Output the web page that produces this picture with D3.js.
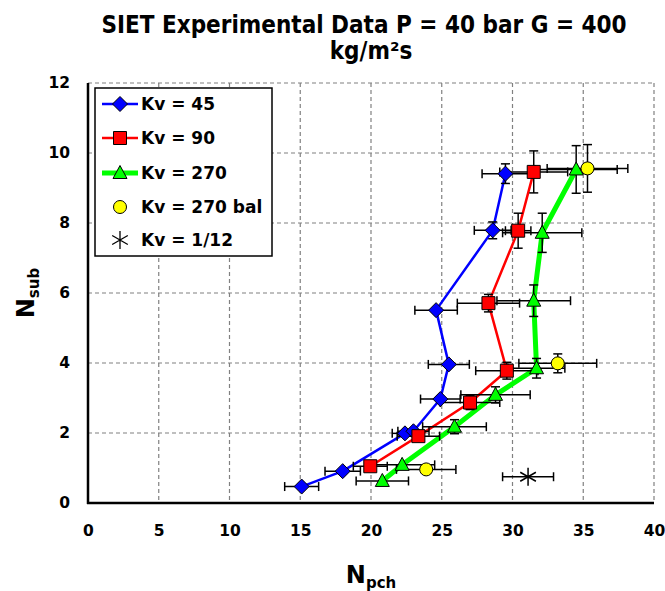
<!DOCTYPE html>
<html><head><meta charset="utf-8">
<script src="https://cdn.jsdelivr.net/npm/d3@7"></script>
<style>body{margin:0;background:#fff}</style>
</head><body>
<svg id="c" width="665" height="591"></svg>
<script>
// ---- data ----
const titleLine1 = "SIET Experimental Data P = 40 bar G = 400";
const xTicks = [0,5,10,15,20,25,30,35,40];
const yTicks = [0,2,4,6,8,10,12];

const kv45X    = [15.1, 18.0, 22.4, 23.0, 24.9, 25.5, 24.6, 28.6, 29.5];
const kv45Y    = [0.47, 0.91, 1.99, 2.05, 2.97, 3.96, 5.51, 7.79, 9.41];
const kv45XErr = [1.2, 1.25, 0.9, 1.1, 1.4, 1.45, 1.5, 1.3, 1.65];
const kv45YErr = [0, 0, 0, 0, 0, 0, 0, 0.24, 0.28];

const kv90X    = [19.95, 23.35, 27.0, 29.6, 28.3, 30.4, 31.5];
const kv90Y    = [1.05, 1.91, 2.87, 3.78, 5.71, 7.78, 9.46];
const kv90XErr = [1.2, 1.5, 2.1, 2.2, 2.2, 0.9, 2.4];
const kv90YErr = [0.1, 0.1, 0.2, 0.24, 0.25, 0.5, 0.6];

const kv270X    = [20.8, 22.2, 25.9, 28.8, 31.7, 31.5, 32.1, 34.5];
const kv270Y    = [0.63, 1.09, 2.18, 3.09, 3.85, 5.78, 7.72, 9.53];
const kv270XErr = [1.85, 2.3, 2.25, 2.45, 2.0, 2.6, 2.8, 2.9];
const kv270YErr = [0, 0, 0.2, 0.23, 0.28, 0.45, 0.56, 0.68];

const balX    = [23.9, 33.2, 35.3];
const balY    = [0.96, 3.99, 9.56];
const balXErr = [2.1, 2.75, 2.85];
const balYErr = [0.1, 0.27, 0.68];

const kv112X    = [31.1];
const kv112Y    = [0.75];
const kv112XErr = [1.8];
const kv112YErr = [0];

const legendLabels = ["Kv = 45","Kv = 90","Kv = 270","Kv = 270 bal","Kv = 1/12"];

// ---- layout ----
const svg = d3.select("#c");
const L=88, R=654, T=83, B=503;
const x = d3.scaleLinear().domain([0,40]).range([L,R]);
const y = d3.scaleLinear().domain([0,12]).range([B,T]);
const FONT = "'DejaVu Sans', Verdana, sans-serif";
const FONTC = "'DejaVu Sans Condensed', 'Liberation Sans Narrow', 'DejaVu Sans', sans-serif";

svg.append("rect").attr("width",665).attr("height",591).attr("fill","#fff");

// grid
const g = svg.append("g");
g.selectAll(".gx").data(xTicks.filter(d=>d>0)).enter().append("line")
  .attr("x1",d=>x(d)).attr("x2",d=>x(d)).attr("y1",T).attr("y2",B)
  .attr("stroke","#808080").attr("stroke-width",1.2).attr("stroke-dasharray","4,3");
g.selectAll(".gy").data(yTicks.filter(d=>d>0)).enter().append("line")
  .attr("y1",d=>y(d)).attr("y2",d=>y(d)).attr("x1",L).attr("x2",R)
  .attr("stroke","#808080").attr("stroke-width",1.2).attr("stroke-dasharray","4,3");

// axes
const xAxis = d3.axisBottom(x).tickValues(xTicks).tickSize(0).tickPadding(22);
const yAxis = d3.axisLeft(y).tickValues(yTicks).tickSize(0).tickPadding(18);
const gx = svg.append("g").attr("transform",`translate(0,${B})`).call(xAxis);
const gy = svg.append("g").attr("transform",`translate(${L},0)`).call(yAxis);
[gx,gy].forEach(a=>{
  a.select(".domain").remove();
  a.selectAll("text").attr("font-family",FONT).attr("font-weight","bold").attr("font-size",15.5).attr("fill","#000");
});
svg.append("line").attr("x1",L).attr("x2",L).attr("y1",T).attr("y2",B+1).attr("stroke","#000").attr("stroke-width",2.5);
svg.append("line").attr("x1",L-1).attr("x2",R).attr("y1",B).attr("y2",B).attr("stroke","#000").attr("stroke-width",2.5);

// series
function pts(xs,ys,xe,ye){return xs.map((v,i)=>({x:v,y:ys[i],xe:xe[i],ye:ye[i]}));}
const series = [
  {name:legendLabels[0], data:pts(kv45X,kv45Y,kv45XErr,kv45YErr), color:"#0000ff", lw:2.5, marker:"diamond", fill:"#0000ff"},
  {name:legendLabels[1], data:pts(kv90X,kv90Y,kv90XErr,kv90YErr), color:"#ff0000", lw:2.5, marker:"square", fill:"#ff0000"},
  {name:legendLabels[2], data:pts(kv270X,kv270Y,kv270XErr,kv270YErr), color:"#00ff00", lw:5, marker:"triangle", fill:"#00ff00"},
  {name:legendLabels[3], data:pts(balX,balY,balXErr,balYErr), color:null, lw:0, marker:"circle", fill:"#ffff00"},
  {name:legendLabels[4], data:pts(kv112X,kv112Y,kv112XErr,kv112YErr), color:null, lw:0, marker:"star", fill:"none"}
];

function markerPath(type){
  switch(type){
    case "diamond": return "M0,-7.5L7.5,0L0,7.5L-7.5,0Z";
    case "square": return "M-6.5,-6.5H6.5V6.5H-6.5Z";
    case "triangle": return "M0,-7.5L7,5.5H-7Z";
    case "circle": return "M6.5,0A6.5,6.5 0 1,1 -6.5,0A6.5,6.5 0 1,1 6.5,0Z";
    case "star": return d3.symbol(d3.symbolAsterisk, 230)();
  }
}

const line = d3.line().x(d=>x(d.x)).y(d=>y(d.y));
series.forEach(s=>{
  if(s.color) svg.append("path").datum(s.data).attr("d",line)
    .attr("fill","none").attr("stroke",s.color).attr("stroke-width",s.lw).attr("stroke-linejoin","round");
});

// error bars
const eb = svg.append("g").attr("stroke","#000").attr("stroke-width",1.5).attr("fill","none");
series.forEach(s=>{
  s.data.forEach(d=>{
    if(d.xe>0){
      eb.append("line").attr("x1",x(d.x-d.xe)).attr("x2",x(d.x+d.xe)).attr("y1",y(d.y)).attr("y2",y(d.y));
      [d.x-d.xe,d.x+d.xe].forEach(v=>eb.append("line").attr("x1",x(v)).attr("x2",x(v)).attr("y1",y(d.y)-4.5).attr("y2",y(d.y)+4.5));
    }
    if(d.ye>0){
      eb.append("line").attr("y1",y(d.y-d.ye)).attr("y2",y(d.y+d.ye)).attr("x1",x(d.x)).attr("x2",x(d.x));
      [d.y-d.ye,d.y+d.ye].forEach(v=>eb.append("line").attr("y1",y(v)).attr("y2",y(v)).attr("x1",x(d.x)-4.5).attr("x2",x(d.x)+4.5));
    }
  });
});

// markers
series.forEach(s=>{
  svg.append("g").selectAll("path").data(s.data).enter().append("path")
    .attr("d",markerPath(s.marker))
    .attr("transform",d=>`translate(${x(d.x)},${y(d.y)})`)
    .attr("fill",s.fill).attr("stroke","#000").attr("stroke-width",s.marker==="star"?1.5:1);
});

// legend
const lg = svg.append("g");
lg.append("rect").attr("x",95).attr("y",88).attr("width",177).attr("height",168)
  .attr("fill","#fff").attr("stroke","#000").attr("stroke-width",1.5);
const rowY = [104,138,173,207,240];
series.forEach((s,i)=>{
  const ry = rowY[i];
  if(s.color) lg.append("line").attr("x1",102).attr("x2",138).attr("y1",ry).attr("y2",ry)
    .attr("stroke",s.color).attr("stroke-width",s.lw);
  lg.append("path").attr("d",markerPath(s.marker)).attr("transform",`translate(120,${ry})`)
    .attr("fill",s.fill).attr("stroke","#000").attr("stroke-width",s.marker==="star"?1.3:1);
  lg.append("text").attr("x",141).attr("y",ry).attr("dy","0.36em")
    .attr("font-family",FONT).attr("font-weight","bold").attr("font-size",17).text(s.name);
});

// title
svg.append("text").attr("font-family",FONTC).attr("font-stretch","condensed").attr("font-weight","bold")
  .attr("font-size",24).attr("text-anchor","middle").attr("x",364).attr("y",33)
  .text(titleLine1);
svg.append("text").attr("font-family",FONTC).attr("font-stretch","condensed").attr("font-weight","bold")
  .attr("font-size",24).attr("text-anchor","middle").attr("x",371).attr("y",59)
  .text("kg/m²s");

// axis titles
const xt = svg.append("text").attr("font-family",FONT).attr("font-weight","bold").attr("text-anchor","middle").attr("x",371).attr("y",583);
xt.append("tspan").attr("font-size",24).text("N");
xt.append("tspan").attr("font-size",15).attr("dy",5).text("pch");
const yt = svg.append("text").attr("font-family",FONT).attr("font-weight","bold").attr("text-anchor","middle")
  .attr("transform",`translate(34,${(T+B)/2}) rotate(-90)`);
yt.append("tspan").attr("font-size",24).text("N");
yt.append("tspan").attr("font-size",15).attr("dy",5).text("sub");
</script>
</body></html>
